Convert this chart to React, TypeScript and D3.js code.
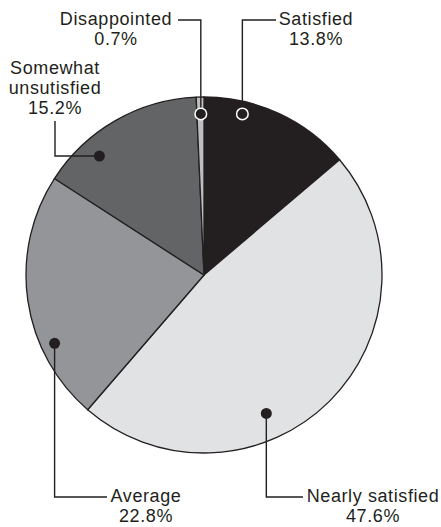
import React from "react";
import * as d3 from "d3";

const categories = ["Satisfied", "Nearly satisfied", "Average", "Somewhat unsatisfied", "Disappointed"];
const values = [13.8, 47.6, 22.8, 15.2, 0.7];
const labelLines = [["Satisfied"], ["Nearly satisfied"], ["Average"], ["Somewhat", "unsutisfied"], ["Disappointed"]];
const valueLabels = ["13.8%", "47.6%", "22.8%", "15.2%", "0.7%"];
const colors = ["#231f20", "#e1e2e4", "#939598", "#636466", "#bcbec0"];

// layout of the leader dots (fraction along slice angle, fraction of radius)
const dotLayout = [
  { f: 0.27, r: 0.93, ring: true },
  { f: 0.62, r: 0.853, ring: false },
  { f: 0.3, r: 0.923, ring: false },
  { f: 0.29, r: 0.89, ring: false },
  { f: 0.55, r: 0.905, ring: true },
];

const W = 441, H = 527;
const cx = 204, cy = 275, R = 178;
const ink = "#231f20";
const font = "'Liberation Sans', Arial, sans-serif";
const fs = 18;

export default function App() {
  const pie = d3.pie<number>().value((d) => d).sort(null);
  const arcs = pie(values);
  const arc = d3.arc<d3.PieArcDatum<number>>().innerRadius(0).outerRadius(R);

  const dots = arcs.map((a, i) => {
    const L = dotLayout[i];
    const ang = a.startAngle + L.f * (a.endAngle - a.startAngle);
    return { x: cx + Math.sin(ang) * R * L.r, y: cy - Math.cos(ang) * R * L.r };
  });

  const labels: { x: number; y: number; path: string }[] = [];
  labels[0] = { x: 316, y: 25, path: `M${dots[0].x},${dots[0].y} V20 H276` };
  labels[4] = { x: 116, y: 25, path: `M${dots[4].x},${dots[4].y} V20 H178` };
  labels[3] = { x: 55, y: 74, path: `M${dots[3].x},${dots[3].y} H55 V121` };
  labels[2] = { x: 146, y: 502, path: `M${dots[2].x},${dots[2].y} V497 H107` };
  labels[1] = { x: 373, y: 502, path: `M${dots[1].x},${dots[1].y} V497 H303` };

  return (
    <svg width={W} height={H} style={{ position: "absolute", left: 0, top: 0, background: "#fff" }}>
      <g transform={`translate(${cx},${cy})`}>
        {arcs.map((a, i) => (
          <path key={categories[i]} d={arc(a) || ""} fill={colors[i]} stroke={ink} strokeWidth={1.3} strokeLinejoin="round" />
        ))}
      </g>
      {labels.map((l, i) => (
        <path key={"l" + i} d={l.path} fill="none" stroke={ink} strokeWidth={1.4} />
      ))}
      {dots.map((d, i) => (
        <circle key={"d" + i} cx={d.x} cy={d.y} r={dotLayout[i].ring ? 5.8 : 5.5} fill={ink}
          stroke={dotLayout[i].ring ? "#fff" : "none"} strokeWidth={1.5} />
      ))}
      {labels.map((l, i) => (
        <text key={"t" + i} x={l.x} y={l.y} textAnchor="middle" fontFamily={font} fontSize={fs}
          letterSpacing={0.6} fill={ink}>
          {[...labelLines[i], valueLabels[i]].map((s, k) => (
            <tspan key={k} x={l.x} dy={k === 0 ? 0 : 20}>{s}</tspan>
          ))}
        </text>
      ))}
    </svg>
  );
}
